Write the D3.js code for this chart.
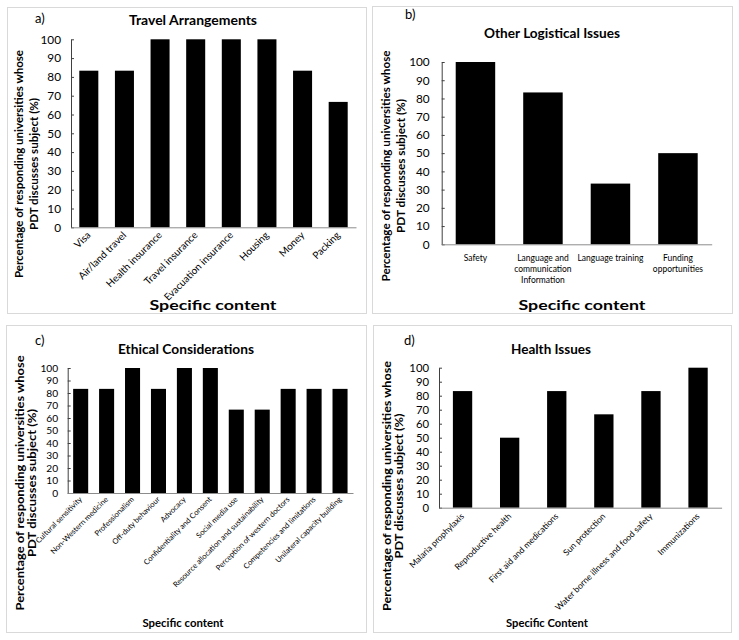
<!DOCTYPE html>
<html><head><meta charset="utf-8">
<script src="https://cdn.jsdelivr.net/npm/d3@7"></script>
<style>
body{margin:0;background:#fff}
svg{display:block}
text{font-family:Lato,"Open Sans",sans-serif;fill:#000}
</style>
</head><body>
<svg id="chart" width="739" height="640"></svg>
<script>
// ---------- DATA ----------
const yTickValues = [0,10,20,30,40,50,60,70,80,90,100];

const travelCategories = ["Visa","Air/land travel","Health insurance","Travel insurance","Evacuation insurance","Housing","Money","Packing"];
const travelValues     = [83.3,83.3,100,100,100,100,83.3,66.7];

const logisticCategories = ["Safety","Language and\ncommunication\nInformation","Language training","Funding\nopportunities"];
const logisticValues     = [100,83.3,33.3,50];

const ethicalCategories = ["Cultural sensitivity","Non-Western medicine","Professionalism","Off-duty behaviour","Advocacy","Confidentiality and Consent","Social media use","Resource allocation and sustainability","Perception of western doctors","Competencies and limitations","Unilateral capacity building"];
const ethicalValues     = [83.3,83.3,100,83.3,100,100,66.7,66.7,83.3,83.3,83.3];

const healthCategories = ["Malaria prophylaxis","Reproductive health","First aid and medications","Sun protection","Water borne illness and food safety","Immunizations"];
const healthValues     = [83.3,50,83.3,66.7,83.3,100];

const yLabelLine1 = "Percentage of responding universities whose";
const yLabelLine2 = "PDT discusses subject (%)";

// ---------- LAYOUT ----------
const panels = [
  {letter:"a)", title:"Travel Arrangements", xTitle:"Specific content", cats:travelCategories, vals:travelValues,
   box:[7,7,366,313], letterXY:[35,23], titleXY:[193,25], titleLen:128,
   x0:71, x1:356, yBottom:227.3, yTop:39.3, barFrac:0.534, tickPad:10, tickSize:11.8,
   labels:"rot", angle:-45, labelSize:10, labelOff:6,
   xTitleXY:[213,310], xTitleLen:127, xTitleSize:12.5,
   yl:{cy:164, b1:23, b2:38, len1:228, len2:132, size:12}},
  {letter:"b)", title:"Other Logistical Issues", xTitle:"Specific content", cats:logisticCategories, vals:logisticValues,
   box:[372,6,732,313], letterXY:[405,19], titleXY:[552,38], titleLen:136,
   x0:441.7, x1:711.7, yBottom:244.3, yTop:62, barFrac:0.585, tickPad:12, tickSize:11.8,
   labels:"flat", labelSize:8.5, labelTop:260.5, labelLH:11,
   xTitleXY:[582,310], xTitleLen:127, xTitleSize:12.5,
   yl:{cy:166, b1:390, b2:405, len1:231, len2:134, size:12}},
  {letter:"c)", title:"Ethical Considerations", xTitle:"Specific content", cats:ethicalCategories, vals:ethicalValues,
   box:[6,325,366,632], letterXY:[35,345], titleXY:[186,354], titleLen:136,
   x0:67.7, x1:353, yBottom:493, yTop:368, barFrac:0.58, tickPad:9.5, tickSize:10.2,
   labels:"rot", angle:-45, labelSize:7.6, labelOff:5,
   xTitleXY:[183,627], xTitleLen:81, xTitleSize:10.5,
   yl:{cy:483, b1:24, b2:36, len1:255, len2:148, size:11}},
  {letter:"d)", title:"Health Issues", xTitle:"Specific Content", cats:healthCategories, vals:healthValues,
   box:[373,325,731,632], letterXY:[404,345], titleXY:[551,354], titleLen:80,
   x0:439, x1:721.6, yBottom:507.7, yTop:367.7, barFrac:0.41, tickPad:10, tickSize:11.3,
   labels:"rot", angle:-45, labelSize:8.6, labelOff:7,
   xTitleXY:[547,627], xTitleLen:82, xTitleSize:10.5,
   yl:{cy:486, b1:391, b2:403, len1:250, len2:145, size:11}}
];

const svg = d3.select("#chart");

panels.forEach(p => {
  const g = svg.append("g");
  // border
  g.append("rect").attr("x",p.box[0]+0.5).attr("y",p.box[1]+0.5)
    .attr("width",p.box[2]-p.box[0]).attr("height",p.box[3]-p.box[1])
    .attr("fill","#fff").attr("stroke","#d9d9d9").attr("stroke-width",1);

  const x = d3.scaleBand().domain(p.cats).range([p.x0,p.x1])
    .paddingInner(1-p.barFrac).paddingOuter((1-p.barFrac)/2);
  const y = d3.scaleLinear().domain([0,100]).range([p.yBottom,p.yTop]);

  // bars
  g.selectAll("rect.bar").data(p.cats).join("rect").attr("class","bar")
    .attr("x",d=>x(d)).attr("width",x.bandwidth())
    .attr("y",(d,i)=>y(p.vals[i])).attr("height",(d,i)=>y(0)-y(p.vals[i]))
    .attr("fill","#000");

  // y axis
  const ya = g.append("g").attr("transform",`translate(${p.x0},0)`)
    .call(d3.axisLeft(y).tickValues(yTickValues).tickSize(-3).tickSizeOuter(0).tickPadding(p.tickPad));
  ya.select(".domain").attr("stroke","#404040");
  ya.selectAll(".tick line").attr("stroke","#404040");
  ya.selectAll(".tick text").attr("font-size",p.tickSize).attr("fill","#000").style("font-family","Lato, 'Open Sans', sans-serif");

  // x axis
  const xa = g.append("g").attr("transform",`translate(0,${p.yBottom})`)
    .call(d3.axisBottom(x).tickSize(0).tickSizeOuter(0).tickFormat(""));
  xa.select(".domain").attr("stroke","#8c8c8c");
  xa.selectAll(".tick text").remove();

  if (p.labels === "rot") {
    g.append("g").selectAll("text").data(p.cats).join("text")
      .attr("transform",d=>`translate(${x(d)+x.bandwidth()/2},${p.yBottom+p.labelOff}) rotate(${p.angle})`)
      .attr("text-anchor","end").attr("dy","0.35em")
      .attr("font-size",p.labelSize).attr("fill","#000")
      .text(d=>d);
  } else {
    const t = g.append("g").selectAll("text").data(p.cats).join("text")
      .attr("x",d=>x(d)+x.bandwidth()/2).attr("y",p.labelTop)
      .attr("text-anchor","middle").attr("font-size",p.labelSize).attr("fill","#000");
    t.each(function(d){
      const lines = d.split("\n");
      d3.select(this).selectAll("tspan").data(lines).join("tspan")
        .attr("x",x(d)+x.bandwidth()/2).attr("dy",(l,i)=>i===0?0:p.labelLH).text(l=>l);
    });
  }

  // panel letter
  g.append("text").attr("x",p.letterXY[0]).attr("y",p.letterXY[1])
    .attr("font-size",13).text(p.letter);
  // title
  g.append("text").attr("x",p.titleXY[0]).attr("y",p.titleXY[1])
    .attr("text-anchor","middle").attr("font-size",13.5).attr("font-weight","bold")
    .attr("textLength",p.titleLen).attr("lengthAdjust","spacingAndGlyphs").text(p.title);
  // x title
  g.append("text").attr("x",p.xTitleXY[0]).attr("y",p.xTitleXY[1])
    .attr("text-anchor","middle").attr("font-size",p.xTitleSize).attr("font-weight","bold")
    .attr("textLength",p.xTitleLen).attr("lengthAdjust","spacingAndGlyphs").text(p.xTitle);
  // y title (two lines)
  [[p.yl.b1,p.yl.len1,yLabelLine1],[p.yl.b2,p.yl.len2,yLabelLine2]].forEach(([bx,len,txt])=>{
    g.append("text").attr("transform",`translate(${bx},${p.yl.cy}) rotate(-90)`)
      .attr("text-anchor","middle").attr("font-size",p.yl.size).attr("font-weight","bold")
      .attr("textLength",len).attr("lengthAdjust","spacingAndGlyphs").text(txt);
  });
});
</script>
</body></html>
